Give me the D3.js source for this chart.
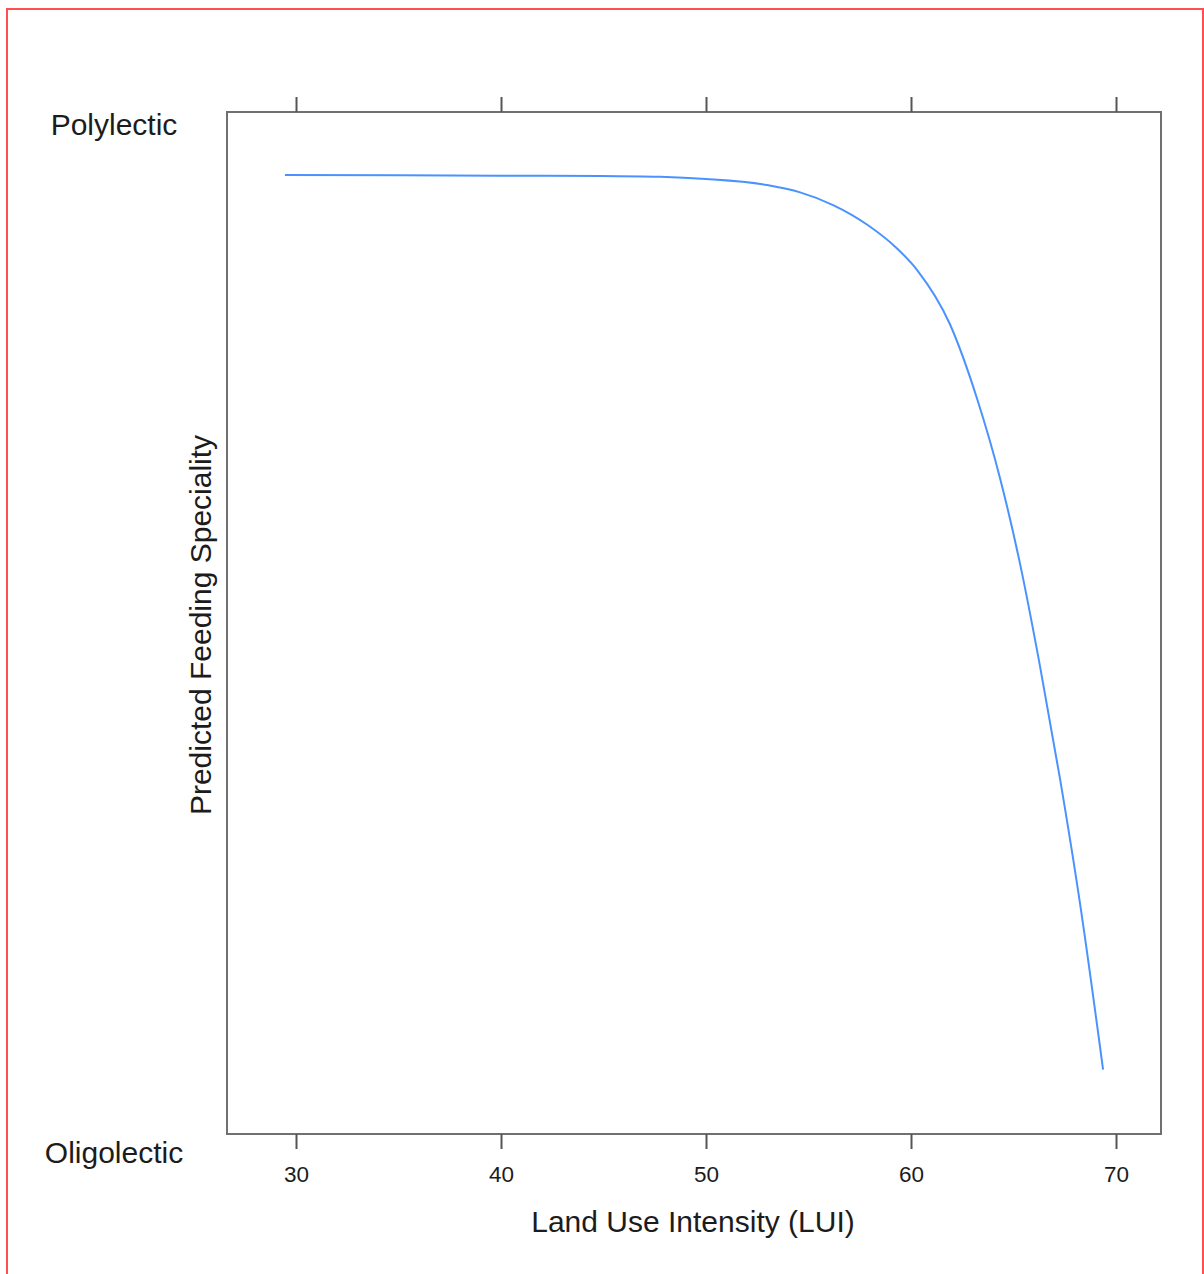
<!DOCTYPE html>
<html>
<head>
<meta charset="utf-8">
<script src="https://cdn.jsdelivr.net/npm/d3@7/dist/d3.min.js"></script>
<style>
  html, body { margin: 0; padding: 0; background: #fff; }
  svg { display: block; }
  text { font-family: "Liberation Sans", Arial, sans-serif; fill: #1c1c1c; }
</style>
</head>
<body>
<script>
// Land use intensity (LUI) values along the fitted curve
const lui = [29.46, 35.07, 39.95, 44.83, 47.76, 50.0, 52.98, 54.59, 56.2, 57.85, 59.32,
  60.29, 61.9, 63.22, 64.34, 65.32, 66.29, 67.27, 68.24, 69.37];
// Predicted feeding speciality (0 = oligolectic, 1 = polylectic)
const speciality = [0.9504, 0.9501, 0.9497, 0.9494, 0.9486, 0.9465, 0.9406, 0.9335,
  0.9212, 0.9023, 0.879, 0.8582, 0.8052, 0.733, 0.6557, 0.5721, 0.4729, 0.3629, 0.2423, 0.0801];

const xTicks = [30, 40, 50, 60, 70];
const xLim = [26.634, 72.195];
const yLim = [0.0175, 1.0117];
const yLabels = [{ v: 1, text: "Polylectic" }, { v: 0, text: "Oligolectic" }];
const xTitle = "Land Use Intensity (LUI)";
const yTitle = "Predicted Feeding Speciality";

const W = 1204, H = 1274;
const panel = { left: 227, right: 1161, top: 112, bottom: 1134 };

const svg = d3.select("body").append("svg").attr("width", W).attr("height", H);

// outer frame
svg.append("rect")
  .attr("x", 7).attr("y", 9).attr("width", 1196).attr("height", 1320)
  .attr("fill", "none").attr("stroke", "#ff5050").attr("stroke-width", 2);

const x = d3.scaleLinear().domain(xLim).range([panel.left, panel.right]);
const y = d3.scaleLinear().domain(yLim).range([panel.bottom, panel.top]);

// panel box
svg.append("rect")
  .attr("x", panel.left).attr("y", panel.top)
  .attr("width", panel.right - panel.left).attr("height", panel.bottom - panel.top)
  .attr("fill", "none").attr("stroke", "#707070").attr("stroke-width", 2);

// bottom axis with labels
const gb = svg.append("g").attr("transform", `translate(0,${panel.bottom})`)
  .call(d3.axisBottom(x).tickValues(xTicks).tickSize(15).tickPadding(17).tickFormat(d3.format("d")));
// top axis, ticks only
const gt = svg.append("g").attr("transform", `translate(0,${panel.top})`)
  .call(d3.axisTop(x).tickValues(xTicks).tickSize(15).tickFormat(""));
[gb, gt].forEach(g => {
  g.select(".domain").remove();
  g.selectAll(".tick line").attr("stroke", "#555").attr("stroke-width", 2);
  g.selectAll(".tick text").style("font-size", "22.5px").attr("fill", "#222")
    .style("font-family", "'Liberation Sans', Arial, sans-serif");
});

// y category labels
svg.selectAll("text.ylab").data(yLabels).join("text")
  .attr("class", "ylab")
  .attr("x", 114)
  .attr("y", d => y(d.v))
  .attr("dy", "0.36em")
  .attr("text-anchor", "middle")
  .style("font-size", "30px")
  .text(d => d.text);

// axis titles
svg.append("text")
  .attr("x", (panel.left + panel.right) / 2 - 1)
  .attr("y", 1232)
  .attr("text-anchor", "middle")
  .style("font-size", "30px")
  .text(xTitle);

svg.append("text")
  .attr("transform", `translate(211,${(panel.top + panel.bottom) / 2 + 2}) rotate(-90)`)
  .attr("text-anchor", "middle")
  .style("font-size", "30px")
  .text(yTitle);

// fitted curve
const pts = lui.map((v, i) => [v, speciality[i]]);
svg.append("path")
  .datum(pts)
  .attr("fill", "none")
  .attr("stroke", "#4a93ff")
  .attr("stroke-width", 2)
  .attr("d", d3.line().x(d => x(d[0])).y(d => y(d[1])).curve(d3.curveMonotoneX));
</script>
</body>
</html>
